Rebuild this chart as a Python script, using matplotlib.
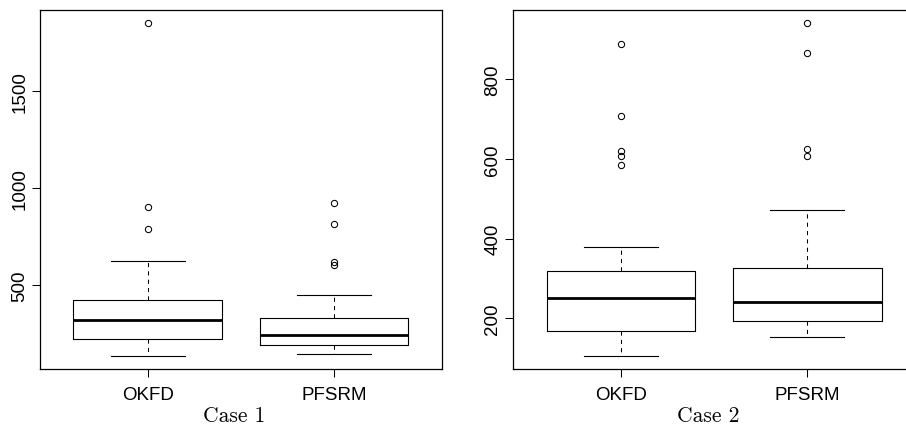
import matplotlib
matplotlib.use("Agg")
import matplotlib.pyplot as plt

methods = ["OKFD", "PFSRM"]

# Case 1 box statistics
case1_q1 = [222, 189]
case1_med = [320, 244]
case1_q3 = [423, 332]
case1_lo = [136, 146]
case1_hi = [624, 450]
case1_out = [[1852, 905, 789], [926, 814, 622, 605]]

# Case 2 box statistics
case2_q1 = [168, 192]
case2_med = [252, 240]
case2_q3 = [318, 327]
case2_lo = [106, 153]
case2_hi = [378, 473]
case2_out = [[890, 709, 620, 608, 586], [941, 867, 626, 607]]

case1_ticks = [500, 1000, 1500]
case2_ticks = [200, 400, 600, 800]

plt.rcParams["font.family"] = ["Liberation Sans", "DejaVu Sans"]


def make_stats(q1, med, q3, lo, hi, out):
    stats = []
    for i, name in enumerate(methods):
        stats.append(dict(label=name, q1=q1[i], med=med[i], q3=q3[i],
                          whislo=lo[i], whishi=hi[i], fliers=out[i]))
    return stats


def draw_panel(ax, stats, yticks, title, title_x):
    ax.bxp(stats, positions=[1, 2], widths=0.8, capwidths=0.4,
           boxprops=dict(color="black", linewidth=0.8),
           medianprops=dict(color="black", linewidth=2.0),
           whiskerprops=dict(color="black", linewidth=0.75, linestyle=(0, (4, 4))),
           capprops=dict(color="black", linewidth=0.8),
           flierprops=dict(marker="o", markersize=4.5, markerfacecolor="none",
                           markeredgecolor="black", markeredgewidth=0.75))
    ax.set_xlim(0.42, 2.58)
    ax.margins(y=0.04)
    ax.autoscale(axis="y")
    ax.set_yticks(yticks)
    ax.set_yticklabels([str(t) for t in yticks], rotation=90, va="center")
    ax.tick_params(axis="both", labelsize=13.5, length=5.5, width=0.75, color="black")
    ax.tick_params(axis="y", pad=3)
    ax.tick_params(axis="x", pad=7)
    for sp in ax.spines.values():
        sp.set_linewidth(0.9)
    ax.text(title_x, -0.13, title, transform=ax.transAxes, ha="center",
            va="center", fontsize=15.5, family="cmr10")


fig = plt.figure(figsize=(9.06, 4.27), dpi=100)
ax1 = fig.add_axes([40 / 906, 57 / 427, 402 / 906, 359 / 427])
ax2 = fig.add_axes([513 / 906, 57 / 427, 402 / 906, 359 / 427])

draw_panel(ax1, make_stats(case1_q1, case1_med, case1_q3, case1_lo, case1_hi, case1_out),
           case1_ticks, "Case 1", 0.483)
draw_panel(ax2, make_stats(case2_q1, case2_med, case2_q3, case2_lo, case2_hi, case2_out),
           case2_ticks, "Case 2", 0.485)

fig.savefig("out.png", dpi=100)
